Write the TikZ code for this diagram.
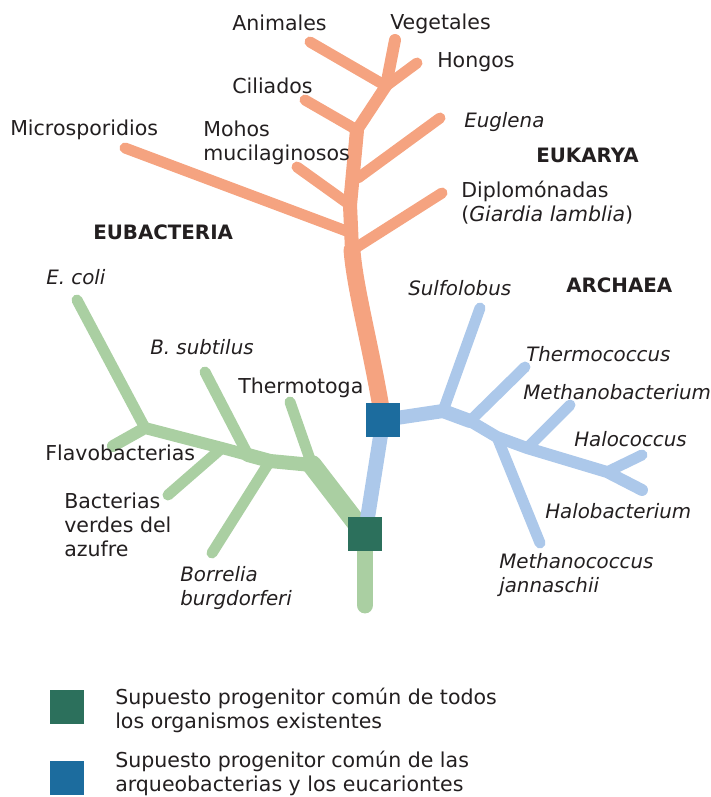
\documentclass[tikz,border=0pt]{standalone}
\usepackage{fontspec}
\setmainfont{DejaVu Sans}
\usepackage{tikz}
\usepackage{xcolor}
\definecolor{eukcol}{RGB}{245,163,128}
\definecolor{bactcol}{RGB}{170,207,162}
\definecolor{archcol}{RGB}{172,200,234}
\definecolor{rootall}{RGB}{44,112,92}
\definecolor{rootae}{RGB}{28,108,158}
\definecolor{ink}{RGB}{35,31,32}

\begin{document}
\begin{tikzpicture}[x=0.025cm, y=-0.025cm,
    branch/.style={line cap=round, line join=round, line width=7.8pt},
    lbl/.style={anchor=base west, inner sep=0pt, text=ink, font=\fontsize{14.6}{17.1}\selectfont},
    lbli/.style={lbl, font=\fontsize{14.1}{17.1}\selectfont\itshape},
    lblb/.style={lbl, font=\fontsize{14.1}{17.1}\selectfont\bfseries},
    lblm/.style={lbl, anchor=north west, align=left},
    rootbox/.style={draw=none, minimum size=0.84cm, inner sep=0pt}]
    \useasboundingbox (0,0) rectangle (711,797);

    % progenitores
    \coordinate (ae) at (383,420);
    \coordinate (all) at (365,534);

    % Eukarya
    \coordinate (e1) at (352,250);
    \coordinate (e2) at (350,205);
    \coordinate (e3) at (357,130);
    \coordinate (e4) at (386,86);
    \coordinate (veg) at (395,40);
    \coordinate (hon) at (417,63);
    \coordinate (ani) at (310,42);
    \coordinate (cil) at (305,100);
    \coordinate (jeug) at (358,178);
    \coordinate (eug) at (440,118);
    \coordinate (moh) at (297,167);
    \coordinate (jmic) at (349,232);
    \coordinate (mic) at (125,148);
    \coordinate (jdip) at (357,247);
    \coordinate (dip) at (442,193);
    \draw[branch, eukcol, line width=12pt] (ae) .. controls (372,350) and (355,290) .. (e1);
    \draw[branch, eukcol, line width=10pt] (e1) -- (e2) -- (e3);
    \draw[branch, eukcol, line width=8.5pt] (e3) -- (e4) -- (veg);
    \draw[branch, eukcol] (e4) -- (hon);
    \draw[branch, eukcol] (e4) -- (ani);
    \draw[branch, eukcol] (e3) -- (cil);
    \draw[branch, eukcol] (jeug) -- (eug);
    \draw[branch, eukcol] (e2) -- (moh);
    \draw[branch, eukcol] (jmic) -- (mic);
    \draw[branch, eukcol] (jdip) -- (dip);

    % Eubacteria
    \coordinate (broot) at (365,605);
    \coordinate (b1) at (312,465);
    \coordinate (b2) at (270,461);
    \coordinate (b3) at (248,455);
    \coordinate (b4) at (222,448);
    \coordinate (b5) at (145,428);
    \coordinate (fla) at (113,446);
    \coordinate (eco) at (77,300);
    \coordinate (bsu) at (205,372);
    \coordinate (ver) at (168,495);
    \coordinate (the) at (290,402);
    \coordinate (bor) at (212,553);
    \draw[branch, bactcol, line width=12pt] (all) -- (broot);
    \draw[branch, bactcol, line width=14pt] (all) -- (b1);
    \draw[branch, bactcol, line width=10pt] (b1) -- (b2) -- (b3);
    \draw[branch, bactcol, line width=8.5pt] (b3) -- (b4) -- (b5) -- (fla);
    \draw[branch, bactcol] (b5) -- (eco);
    \draw[branch, bactcol] (b3) -- (bsu);
    \draw[branch, bactcol] (b4) -- (ver);
    \draw[branch, bactcol] (b1) -- (the);
    \draw[branch, bactcol] (b2) -- (bor);

    % Archaea
    \coordinate (a1) at (443,411);
    \coordinate (a2) at (470,421);
    \coordinate (a3) at (497,437);
    \coordinate (a4) at (527,448);
    \coordinate (a5) at (607,472);
    \coordinate (sul) at (480,308);
    \coordinate (tco) at (525,367);
    \coordinate (mco) at (540,543);
    \coordinate (mba) at (570,405);
    \coordinate (hco) at (642,455);
    \coordinate (hba) at (642,490);
    \draw[branch, archcol, line width=10.5pt] (all) -- (ae);
    \draw[branch, archcol, line width=10pt] (ae) -- (a1) -- (a2);
    \draw[branch, archcol, line width=8.5pt] (a2) -- (a3) -- (a4) -- (a5) -- (hba);
    \draw[branch, archcol] (a1) -- (sul);
    \draw[branch, archcol] (a2) -- (tco);
    \draw[branch, archcol] (a3) -- (mco);
    \draw[branch, archcol] (a4) -- (mba);
    \draw[branch, archcol] (a5) -- (hco);

    \node[rootbox, fill=rootae] (aebox) at (ae) {};
    \node[rootbox, fill=rootall] (allbox) at (all) {};

    % etiquetas
    \node[lbl] (lani) at (232,30) {Animales};
    \node[lbl] (lveg) at (390,29) {Vegetales};
    \node[lbl] (lhon) at (437,67) {Hongos};
    \node[lbl] (lcil) at (232,93) {Ciliados};
    \node[lbli] (leug) at (464,127) {Euglena};
    \node[lbl] (lmic) at (10,135) {Microsporidios};
    \node[lblm] (lmoh) at (203,121) {Mohos\\mucilaginosos};
    \node[lblb] (leuk) at (536,162) {EUKARYA};
    \node[lblm] (ldip) at (461,181) {Diplomónadas\\(\textit{Giardia lamblia})};
    \node[lblb] (leub) at (93,239) {EUBACTERIA};
    \node[lbli] (leco) at (46,284) {E. coli};
    \node[lbli] (lsul) at (408,295) {Sulfolobus};
    \node[lblb] (larc) at (566,292) {ARCHAEA};
    \node[lbli] (lbsu) at (150,354) {B. subtilus};
    \node[lbli] (ltco) at (526,361) {Thermococcus};
    \node[lbl] (lthe) at (238,393) {Thermotoga};
    \node[lbli] (lmba) at (523,399) {Methanobacterium};
    \node[lbli] (lhco) at (574,446) {Halococcus};
    \node[lbl] (lfla) at (45,460) {Flavobacterias};
    \node[lblm] (lver) at (64,493) {Bacterias\\verdes del\\azufre};
    \node[lbli] (lhba) at (545,518) {Halobacterium};
    \node[lblm, lbli, anchor=north west, align=left] (lbor) at (180,566) {Borrelia\\burgdorferi};
    \node[lblm, lbli, anchor=north west, align=left] (lmco) at (499,553) {Methanococcus\\jannaschii};

    % leyenda
    \node[rootbox, fill=rootall, anchor=north west] (legall) at (50,690) {};
    \node[rootbox, fill=rootae, anchor=north west] (legae) at (50,761) {};
    \node[lblm] (tall) at (115,688) {Supuesto progenitor común de todos\\los organismos existentes};
    \node[lblm] (tae) at (115,751) {Supuesto progenitor común de las\\arqueobacterias y los eucariontes};
\end{tikzpicture}
\end{document}
